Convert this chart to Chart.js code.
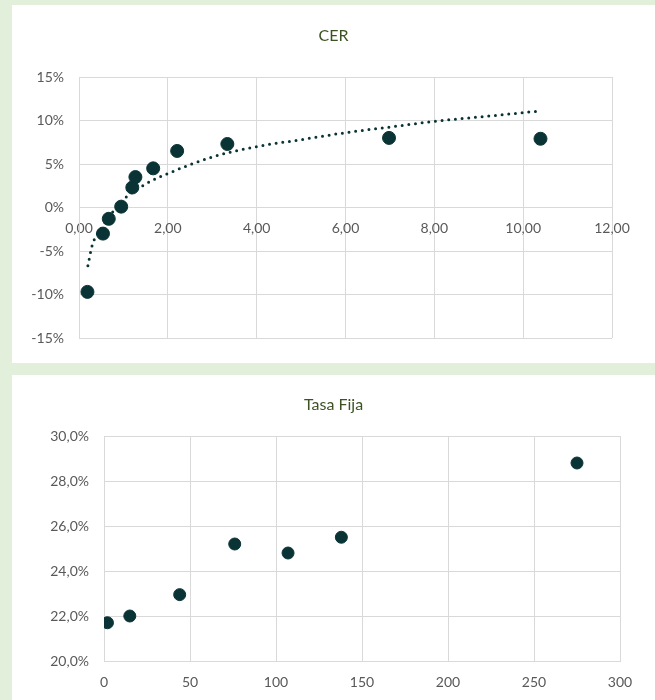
<!DOCTYPE html>
<html>
<head>
<meta charset="utf-8">
<script src="https://cdn.jsdelivr.net/npm/chart.js@4.4.1/dist/chart.umd.min.js"></script>
<style>
  body { margin: 0; background: #e2efda; width: 655px; height: 700px; overflow: hidden; position: relative; }
  .panel { position: absolute; left: 12px; width: 643px; background: #fff; }
  canvas { display: block; }
</style>
</head>
<body>
<div class="panel" style="top:5px;height:358px"><canvas id="cerChart" width="643" height="358"></canvas></div>
<div class="panel" style="top:375px;height:325px"><canvas id="fijaChart" width="643" height="325"></canvas></div>
<script>
// CER bonds: duration vs yield (%)
const cerDuration = [0.19, 0.54, 0.67, 0.95, 1.20, 1.27, 1.67, 2.21, 3.34, 6.98, 10.39];
const cerYield = [-9.7, -3.0, -1.3, 0.1, 2.3, 3.5, 4.5, 6.5, 7.3, 8.0, 7.9];
// dotted trend line
const cerTrendX = [0.2, 0.3, 0.5, 1, 1.5, 2, 3, 4, 5, 6, 7, 8, 9, 10.3];
const cerTrendY = [-6.7, -4.3, -2.4, 0.9, 2.7, 3.9, 5.8, 7.0, 7.8, 8.6, 9.25, 9.9, 10.4, 11.05];

// Tasa Fija: days vs yield (%)
const fijaDays = [2, 15, 44, 76, 107, 138, 275];
const fijaYield = [21.7, 22.0, 22.95, 25.2, 24.8, 25.5, 28.8];

const dotColor = '#0a3335';
const gridColor = '#d9d9d9';
const tickFont = { family: 'Lato', size: 14 };
const tickColor = '#595959';

const toPoints = (xs, ys) => xs.map((x, i) => ({ x: x, y: ys[i] }));

// title centred on the whole panel, like the Excel chart
const panelTitle = {
  id: 'panelTitle',
  afterDraw(chart, args, opts) {
    const ctx = chart.ctx;
    ctx.save();
    ctx.font = '16px Lato';
    ctx.fillStyle = '#3b5323';
    ctx.textAlign = 'center';
    ctx.textBaseline = 'middle';
    ctx.fillText(opts.text, chart.width / 2, opts.y);
    ctx.restore();
  }
};

new Chart(document.getElementById('cerChart'), {
  type: 'scatter',
  data: {
    datasets: [{
      data: toPoints(cerDuration, cerYield),
      backgroundColor: dotColor,
      borderColor: dotColor,
      pointRadius: 6.5,
      order: 1
    }, {
      data: toPoints(cerTrendX, cerTrendY),
      showLine: true,
      pointRadius: 0,
      borderColor: dotColor,
      borderWidth: 3,
      borderCapStyle: 'round',
      borderDash: [0, 6.7],
      cubicInterpolationMode: 'monotone',
      order: 2
    }]
  },
  plugins: [panelTitle],
  options: {
    responsive: false,
    animation: false,
    layout: { padding: { left: 20, right: 43, top: 72, bottom: 25 } },
    plugins: {
      legend: { display: false },
      tooltip: { enabled: false },
      panelTitle: { text: 'CER', y: 31 }
    },
    scales: {
      x: {
        type: 'linear',
        position: { y: 0 },
        min: 0, max: 12,
        grid: { color: gridColor, drawTicks: false },
        border: { color: gridColor },
        ticks: {
          stepSize: 2, padding: 12.6, color: tickColor, font: tickFont, maxRotation: 0,
          callback: v => v.toFixed(2).replace('.', ',')
        }
      },
      y: {
        min: -15, max: 15,
        grid: { color: gridColor, drawTicks: false },
        border: { color: gridColor },
        afterFit: s => { s.width = 47; },
        ticks: {
          stepSize: 5, padding: 15, color: tickColor, font: tickFont,
          callback: v => v + '%'
        }
      }
    }
  }
});

new Chart(document.getElementById('fijaChart'), {
  type: 'scatter',
  data: {
    datasets: [{
      data: toPoints(fijaDays, fijaYield),
      backgroundColor: dotColor,
      borderColor: dotColor,
      pointRadius: 6
    }]
  },
  plugins: [panelTitle],
  options: {
    responsive: false,
    animation: false,
    layout: { padding: { left: 36, right: 35, top: 61, bottom: 0 } },
    plugins: {
      legend: { display: false },
      tooltip: { enabled: false },
      panelTitle: { text: 'Tasa Fija', y: 30 }
    },
    scales: {
      x: {
        min: 0, max: 300,
        grid: { color: gridColor, drawTicks: false },
        border: { color: gridColor },
        afterFit: s => { s.height = 39; },
        ticks: { stepSize: 50, padding: 13.5, color: tickColor, font: tickFont, maxRotation: 0 }
      },
      y: {
        min: 20, max: 30,
        grid: { color: gridColor, drawTicks: false },
        border: { color: gridColor },
        afterFit: s => { s.width = 56; },
        ticks: {
          stepSize: 2, padding: 15, color: tickColor, font: tickFont,
          callback: v => v.toFixed(1).replace('.', ',') + '%'
        }
      }
    }
  }
});
</script>
</body>
</html>
